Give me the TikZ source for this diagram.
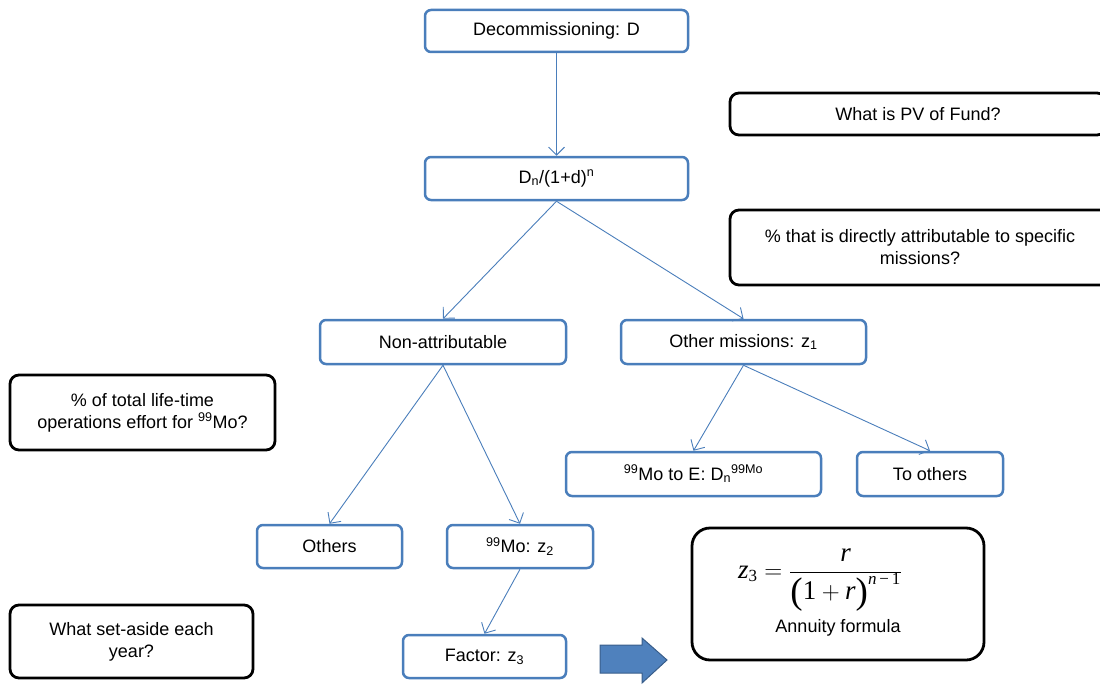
\documentclass[tikz,border=0pt]{standalone}
\usepackage{fontspec}
\setmainfont{Liberation Sans}
\newfontfamily\tms{Liberation Serif}
\newcommand{\ti}[1]{\mbox{\tms\itshape #1}}
\newcommand{\tr}[1]{\mbox{\tms #1}}
\newcommand{\sti}[1]{\mbox{\tms\itshape\fontsize{17}{17}\selectfont #1}}
\newcommand{\str}[1]{\mbox{\tms\fontsize{17}{17}\selectfont #1}}
\newcommand{\bigpar}[1]{\raisebox{-4pt}{\tms\fontsize{37}{37}\selectfont #1}}
\usetikzlibrary{arrows.meta}
\definecolor{bl}{RGB}{74,126,187}
\definecolor{arrfill}{RGB}{79,129,189}
\definecolor{arrdraw}{RGB}{56,93,138}
\begin{document}
\begin{tikzpicture}[x=1pt,y=-1pt,
  bbox/.style={draw=bl, line width=2.5pt, rounded corners=6pt, fill=white,
    font=\fontsize{18}{21}\selectfont, inner sep=0pt, align=center},
  qbox/.style={draw=black, line width=2.8pt, rounded corners=9pt, fill=white,
    font=\fontsize{18}{22}\selectfont, inner sep=0pt, align=center},
  conn/.style={draw=bl, line width=0.9pt, -{Straight Barb[length=8pt,width=16pt,line width=0.9pt]}}]
\useasboundingbox (0,0) rectangle (1100,685);

% blue flow boxes
\node[bbox, minimum width=263, minimum height=42] (dec) at (556.5,31) {Decommissioning: D};
\node[bbox, minimum width=263, minimum height=43] (dn) at (556.5,178.5) {D\textsubscript{n}/(1+d)\textsuperscript{n}};
\node[bbox, minimum width=246, minimum height=44] (non) at (443,342) {Non-attributable};
\node[bbox, minimum width=245, minimum height=44] (oth) at (743.5,342) {Other missions: z\textsubscript{1}};
\node[bbox, minimum width=255, minimum height=44] (mo) at (693.5,474) {\textsuperscript{99}Mo to E: D\textsubscript{n}\textsuperscript{99Mo}};
\node[bbox, minimum width=146, minimum height=44] (toth) at (930,474) {To others};
\node[bbox, minimum width=145, minimum height=43] (others) at (329.5,546.5) {Others};
\node[bbox, minimum width=146, minimum height=43] (moz) at (520,546.5) {\textsuperscript{99}Mo: z\textsubscript{2}};
\node[bbox, minimum width=163, minimum height=43] (fac) at (484.5,656.5) {Factor: z\textsubscript{3}};

% black question boxes
\node[qbox, minimum width=376, minimum height=42] (pv) at (918,114) {What is PV of Fund?};
\node[qbox, minimum width=380, minimum height=75] (pct) at (920,247.5) {\% that is directly attributable to specific\\missions?};
\node[qbox, minimum width=265, minimum height=75] (tot) at (142.5,412.5) {\% of total life-time\\operations effort for \textsuperscript{99}Mo?};
\node[qbox, minimum width=243, minimum height=73] (set) at (131.5,641.5) {What set-aside each\\year?};
\node[qbox, rounded corners=18pt, minimum width=292, minimum height=132] (ann) at (838,594) {};
\node[font=\fontsize{27}{30}\selectfont] (frm) at (820,580) {$\displaystyle \ti{z}_{\str{3}}=\frac{\ti{r}}{\bigpar{(}\tr{1}+\ti{r}\bigpar{)}^{\sti{n}\str{\,\textminus\,1}}}$};
\node[font=\fontsize{18}{21}\selectfont] (annl) at (838,628) {Annuity formula};

% connectors
\draw[conn] (dec.south) -- (dn.north);
\draw[conn] (dn.south) -- (non.north);
\draw[conn] (dn.south) -- (oth.north);
\draw[conn] (non.south) -- (others.north);
\draw[conn] (non.south) -- (moz.north);
\draw[conn] (oth.south) -- (mo.north);
\draw[conn] (oth.south) -- (toth.north);
\draw[conn] (moz.south) -- (fac.north);

% block arrow
\draw[fill=arrfill, draw=arrdraw, line width=1pt]
  (600,645) -- (642,645) -- (642,638) -- (667,660) -- (642,683) -- (642,673) -- (600,673) -- cycle;
\end{tikzpicture}
\end{document}
